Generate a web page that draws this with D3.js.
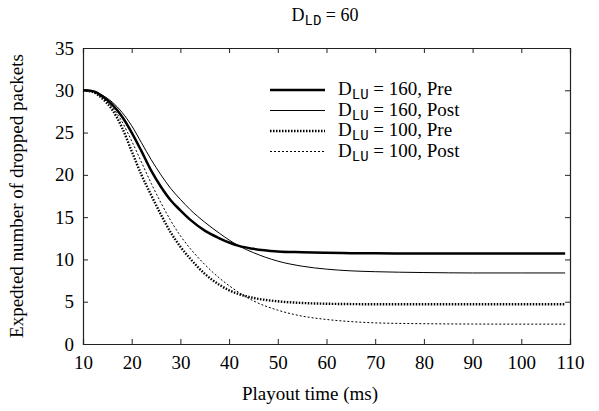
<!DOCTYPE html>
<html>
<head>
<meta charset="utf-8">
<script src="https://cdn.jsdelivr.net/npm/d3@7"></script>
<style>
  body { margin: 0; background: #fff; }
  svg text { font-family: "Liberation Serif", "Times New Roman", Times, "DejaVu Serif", serif; fill: #000; }
  svg text tspan.sub { font-family: "Liberation Mono", "Courier New", "DejaVu Sans Mono", monospace; }
</style>
</head>
<body>
<div id="chart"></div>
<script>
// playout time (ms)
const times = [10, 12, 14, 16, 18, 20, 22, 24, 26, 28, 30, 32, 35, 38, 40, 42, 45, 50, 55, 60, 65, 70, 80, 90, 100, 109];

// expected number of dropped packets
const pre160  = [30, 29.9, 29.3, 28.3, 26.9, 25.0, 22.8, 20.5, 18.6, 17.0, 15.8, 14.7, 13.4, 12.5, 12.0, 11.6, 11.25, 10.95, 10.85, 10.78, 10.74, 10.72, 10.7, 10.7, 10.7, 10.7];
const post160 = [30, 29.9, 29.4, 28.6, 27.4, 25.8, 23.8, 21.8, 20.0, 18.4, 17.1, 15.9, 14.4, 13.1, 12.3, 11.6, 10.8, 9.8, 9.2, 8.85, 8.65, 8.55, 8.45, 8.4, 8.4, 8.4];
const pre100  = [30, 29.8, 29.0, 27.7, 25.6, 22.8, 20.0, 17.6, 15.3, 13.2, 11.5, 10.1, 8.3, 7.0, 6.35, 5.9, 5.45, 5.05, 4.85, 4.76, 4.72, 4.7, 4.7, 4.7, 4.7, 4.7];
const post100 = [30, 29.8, 29.1, 28.0, 26.3, 24.0, 21.5, 19.0, 16.7, 14.6, 12.8, 11.3, 9.4, 7.8, 6.9, 6.1, 5.1, 4.0, 3.3, 2.9, 2.65, 2.5, 2.4, 2.36, 2.35, 2.35];

const xTicks = [10, 20, 30, 40, 50, 60, 70, 80, 90, 100, 110];
const yTicks = [0, 5, 10, 15, 20, 25, 30, 35];

const series = [
  { du: "160", phase: "Pre",  values: pre160,  width: 2.5, dash: null },
  { du: "160", phase: "Post", values: post160, width: 1,   dash: null },
  { du: "100", phase: "Pre",  values: pre100,  width: 2.4, dash: "1.5,1.5" },
  { du: "100", phase: "Post", values: post100, width: 1,   dash: "2,2" }
];

const W = 599, H = 411;
const m = { left: 83, right: 29, top: 48, bottom: 67 };
const serif = "'Liberation Serif', 'Times New Roman', Times, 'DejaVu Serif', serif";

const svg = d3.select("#chart").append("svg")
  .attr("width", W).attr("height", H);

const x = d3.scaleLinear().domain([10, 110]).range([m.left, W - m.right]);
const y = d3.scaleLinear().domain([0, 35]).range([H - m.bottom, m.top]);

// axes, ticks pointing inward on all four sides
svg.append("g")
  .attr("transform", `translate(0,${H - m.bottom})`)
  .call(d3.axisBottom(x).tickValues(xTicks).tickSize(-5).tickPadding(12));
svg.append("g")
  .attr("transform", `translate(0,${m.top})`)
  .call(d3.axisTop(x).tickValues(xTicks).tickSize(-5).tickFormat(""));
svg.append("g")
  .attr("transform", `translate(${m.left},0)`)
  .call(d3.axisLeft(y).tickValues(yTicks).tickSize(-5).tickPadding(9));
svg.append("g")
  .attr("transform", `translate(${W - m.right},0)`)
  .call(d3.axisRight(y).tickValues(yTicks).tickSize(-5).tickFormat(""));

svg.selectAll("g").attr("font-family", serif).attr("font-size", 19);
svg.selectAll(".domain").attr("stroke", "#222").attr("stroke-width", 1.2);
svg.selectAll(".tick line").attr("stroke", "#222");

const line = d3.line()
  .x((d, i) => x(times[i]))
  .y(d => y(d))
  .curve(d3.curveMonotoneX);

svg.selectAll(".series")
  .data(series)
  .enter().append("path")
  .attr("class", "series")
  .attr("fill", "none")
  .attr("stroke", "#000")
  .attr("stroke-width", d => d.width)
  .attr("stroke-dasharray", d => d.dash)
  .attr("d", d => line(d.values));

// legend
const leg = svg.append("g");
series.forEach((s, i) => {
  const ly = 90 + i * 20.5;
  leg.append("line")
    .attr("x1", 270).attr("x2", 325).attr("y1", ly).attr("y2", ly)
    .attr("stroke", "#000")
    .attr("stroke-width", s.width)
    .attr("stroke-dasharray", s.dash);
  const t = leg.append("text")
    .attr("x", 338).attr("y", ly + 5)
    .attr("font-family", serif)
    .attr("font-size", 19);
  t.append("tspan").text("D");
  t.append("tspan").attr("class", "sub").attr("font-size", 14).attr("dy", 4).text("LU");
  t.append("tspan").attr("dy", -4).text(` = ${s.du}, ${s.phase}`);
});

// title
const title = svg.append("text")
  .attr("x", 325).attr("y", 21)
  .attr("text-anchor", "middle")
  .attr("font-family", serif)
  .attr("font-size", 18);
title.append("tspan").text("D");
title.append("tspan").attr("class", "sub").attr("font-size", 14).attr("dy", 4).text("LD");
title.append("tspan").attr("dy", -4).text(" = 60");

// axis titles
svg.append("text")
  .attr("x", 310).attr("y", 400)
  .attr("text-anchor", "middle")
  .attr("font-family", serif)
  .attr("font-size", 19)
  .text("Playout time (ms)");

svg.append("text")
  .attr("transform", `translate(23,${(m.top + H - m.bottom) / 2}) rotate(-90)`)
  .attr("text-anchor", "middle")
  .attr("font-family", serif)
  .attr("font-size", 19)
  .text("Expedted number of dropped packets");
</script>
</body>
</html>
